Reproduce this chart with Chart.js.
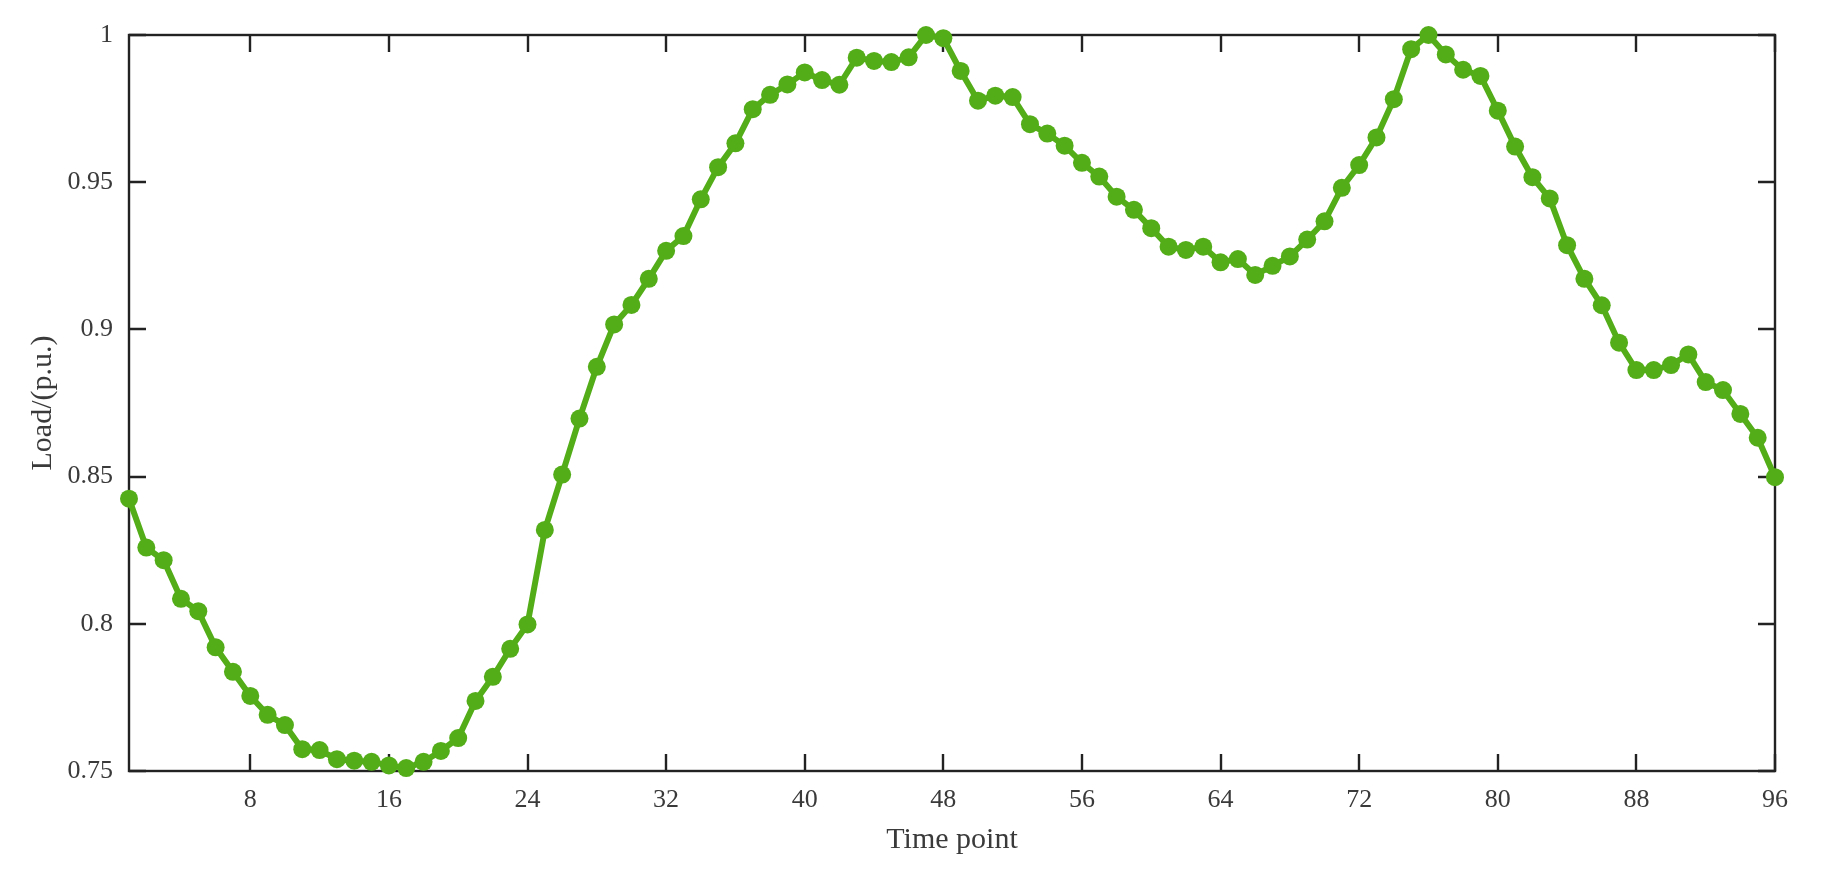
<!DOCTYPE html>
<html>
<head>
<meta charset="utf-8">
<title>Load curve</title>
<script src="https://cdn.jsdelivr.net/npm/chart.js@4.4.0/dist/chart.umd.min.js"></script>
<style>
    html, body { margin: 0; padding: 0; background: #fff; }
    canvas { display: block; }
</style>
</head>
<body>
<canvas id="loadChart" width="1833" height="877"></canvas>
<script>
// ============================================
// DATA
// ============================================
const timePoints = Array.from({ length: 96 }, (_, i) => i + 1);

const loadValues = [
    0.8425, 0.8259, 0.8216, 0.8085, 0.8043, 0.7920, 0.7837, 0.7755, 0.7691, 0.7656,
    0.7574, 0.7571, 0.7540, 0.7535, 0.7531, 0.7519, 0.7510, 0.7531, 0.7568, 0.7612,
    0.7738, 0.7820, 0.7915, 0.7998, 0.8319, 0.8507, 0.8697, 0.8873, 0.9017, 0.9083,
    0.9172, 0.9267, 0.9317, 0.9442, 0.9551, 0.9632, 0.9748, 0.9797, 0.9832, 0.9873,
    0.9847, 0.9831, 0.9923, 0.9912, 0.9908, 0.9924, 1.0000, 0.9989, 0.9878, 0.9777,
    0.9794, 0.9789, 0.9697, 0.9665, 0.9624, 0.9566, 0.9519, 0.9451, 0.9406, 0.9344,
    0.9281, 0.9270, 0.9281, 0.9228, 0.9239, 0.9185, 0.9216, 0.9248, 0.9305, 0.9367,
    0.9481, 0.9558, 0.9652, 0.9782, 0.9952, 1.0000, 0.9934, 0.9882, 0.9861, 0.9743,
    0.9621, 0.9517, 0.9445, 0.9286, 0.9172, 0.9082, 0.8955, 0.8862, 0.8862, 0.8879,
    0.8915, 0.8821, 0.8794, 0.8713, 0.8632, 0.8498
];

const xTicks = [8, 16, 24, 32, 40, 48, 56, 64, 72, 80, 88, 96];
const yTicks = [0.75, 0.8, 0.85, 0.9, 0.95, 1];

const LINE_GREEN = '#53ad19';
const AXIS_COLOR = '#222222';
const TEXT_COLOR = '#3a3a3a';
const TICK_LEN = 17;

// ============================================
// FRAME + INWARD TICKS (MATLAB style box)
// ============================================
const framePlugin = {
    id: 'frame',
    beforeDatasetsDraw(chart) {
        const { ctx, chartArea: a, scales } = chart;
        const x = scales.x;
        const y = scales.y;

        ctx.save();
        ctx.strokeStyle = AXIS_COLOR;
        ctx.lineWidth = 2.4;
        ctx.strokeRect(a.left, a.top, a.right - a.left, a.bottom - a.top);

        ctx.beginPath();
        xTicks.forEach(v => {
            const px = Math.round(x.getPixelForValue(v));
            ctx.moveTo(px, a.bottom);
            ctx.lineTo(px, a.bottom - TICK_LEN);
            ctx.moveTo(px, a.top);
            ctx.lineTo(px, a.top + TICK_LEN);
        });
        yTicks.forEach(v => {
            const py = Math.round(y.getPixelForValue(v));
            ctx.moveTo(a.left, py);
            ctx.lineTo(a.left + TICK_LEN, py);
            ctx.moveTo(a.right, py);
            ctx.lineTo(a.right - TICK_LEN, py);
        });
        ctx.stroke();
        ctx.restore();
    }
};

// ============================================
// CHART
// ============================================
const serif = "'Liberation Serif', 'Times New Roman', serif";

new Chart(document.getElementById('loadChart'), {
    type: 'line',
    data: {
        datasets: [{
            data: timePoints.map((t, i) => ({ x: t, y: loadValues[i] })),
            borderColor: LINE_GREEN,
            backgroundColor: LINE_GREEN,
            borderWidth: 6,
            pointRadius: 9,
            pointBorderWidth: 0,
            pointBackgroundColor: LINE_GREEN,
            tension: 0,
            clip: false
        }]
    },
    options: {
        responsive: false,
        devicePixelRatio: 1,
        animation: false,
        events: [],
        layout: {
            padding: { top: 35, right: 58, left: 0, bottom: 0 }
        },
        plugins: {
            legend: { display: false },
            tooltip: { enabled: false }
        },
        scales: {
            x: {
                type: 'linear',
                min: 1,
                max: 96,
                afterBuildTicks: scale => {
                    scale.ticks = xTicks.map(v => ({ value: v }));
                },
                afterFit: scale => { scale.height = 106; },
                grid: { display: false, drawTicks: false },
                border: { display: false },
                ticks: {
                    padding: 14,
                    color: TEXT_COLOR,
                    maxRotation: 0,
                    font: { family: serif, size: 26 },
                    callback: v => String(v)
                },
                title: {
                    display: true,
                    text: 'Time point',
                    color: TEXT_COLOR,
                    font: { family: serif, size: 30 },
                    padding: { top: 0, bottom: 19 }
                }
            },
            y: {
                type: 'linear',
                min: 0.75,
                max: 1,
                afterBuildTicks: scale => {
                    scale.ticks = yTicks.map(v => ({ value: v }));
                },
                afterFit: scale => { scale.width = 129; },
                grid: { display: false, drawTicks: false },
                border: { display: false },
                ticks: {
                    padding: 16,
                    color: TEXT_COLOR,
                    font: { family: serif, size: 26 },
                    callback: v => String(v)
                },
                title: {
                    display: true,
                    text: 'Load/(p.u.)',
                    color: TEXT_COLOR,
                    font: { family: serif, size: 30 },
                    padding: { top: 25, bottom: 0 }
                }
            }
        }
    },
    plugins: [framePlugin]
});
</script>
</body>
</html>
